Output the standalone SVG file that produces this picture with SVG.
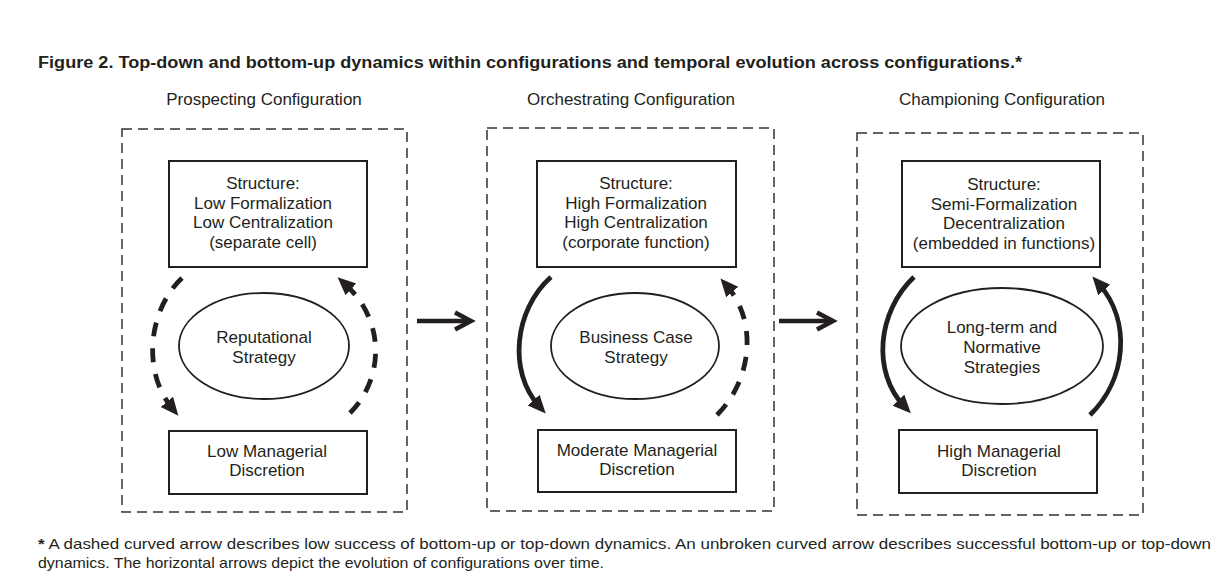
<svg xmlns="http://www.w3.org/2000/svg" width="1217" height="576" viewBox="0 0 1217 576">
<style>
text{font-family:"Liberation Sans",Arial,sans-serif;fill:#231f20;font-size:17px}
.t{text-anchor:middle}
.title{font-weight:bold;font-size:16px}
.note{font-size:15px}
.frame{fill:none;stroke:#333;stroke-width:1.5;stroke-dasharray:10 6}
.box{fill:#fff;stroke:#231f20;stroke-width:2}
.ell{fill:#fff;stroke:#231f20;stroke-width:1.8}
.arc{fill:none;stroke:#231f20;stroke-width:4.8;marker-end:url(#ah)}
.dash{stroke-dasharray:14 12}
.harrow{fill:none;stroke:#231f20;stroke-width:4.5}
</style>
<defs>
<marker id="ah" markerUnits="userSpaceOnUse" markerWidth="20" markerHeight="18" refX="8" refY="8" orient="auto">
<path d="M0,0 L18,8 L0,16 z" fill="#231f20"/>
</marker>
</defs>
<rect width="1217" height="576" fill="#fff"/>
<text class="title" x="38" y="68" textLength="984" lengthAdjust="spacingAndGlyphs">Figure 2.  Top-down and bottom-up dynamics within configurations and temporal evolution across configurations.*</text>

<g id="panel-prospecting">
<text class="t" x="264" y="105">Prospecting Configuration</text>
<rect class="frame" x="122" y="129" width="285" height="383"/>
</g>
<g id="panel-orchestrating">
<text class="t" x="631" y="105">Orchestrating Configuration</text>
<rect class="frame" x="487" y="128" width="287" height="383"/>
</g>
<g id="panel-championing">
<text class="t" x="1002" y="105">Championing Configuration</text>
<rect class="frame" x="857" y="133" width="286" height="382"/>
</g>

<g id="connectors">
<path class="arc dash" d="M182,278 C148,310 142,372 172,408"/>
<path class="arc dash" d="M350,413 C383,380 387,322 345,284"/>
<path class="arc" d="M551,277 C514,310 508,372 539,406"/>
<path class="arc dash" d="M717,415 C752,380 758,322 727,286"/>
<path class="arc" d="M914,277 C877,312 872,372 904,406"/>
<path class="arc" d="M1090,415 C1126,380 1132,322 1099,284"/>
<line class="harrow" x1="417" y1="321" x2="469" y2="321"/>
<polyline class="harrow" points="455,312.5 471,321 455,329.5"/>
<line class="harrow" x1="779" y1="321" x2="830" y2="321"/>
<polyline class="harrow" points="817,312.5 833,321 817,329.5"/>
</g>

<g id="p1-structure">
<rect class="box" x="169" y="161" width="198" height="106"/>
<text class="t" x="263" y="189">Structure:</text>
<text class="t" x="263" y="208.5">Low Formalization</text>
<text class="t" x="263" y="228">Low Centralization</text>
<text class="t" x="263" y="247.5">(separate cell)</text>
</g>
<g id="p1-strategy">
<ellipse class="ell" cx="264" cy="346" rx="85" ry="53"/>
<text class="t" x="264" y="343">Reputational</text>
<text class="t" x="264" y="363">Strategy</text>
</g>
<g id="p1-discretion">
<rect class="box" x="169" y="431" width="198" height="63"/>
<text class="t" x="267" y="457">Low Managerial</text>
<text class="t" x="267" y="476">Discretion</text>
</g>

<g id="p2-structure">
<rect class="box" x="537" y="161" width="199" height="106"/>
<text class="t" x="636" y="189">Structure:</text>
<text class="t" x="636" y="208.5">High Formalization</text>
<text class="t" x="636" y="228">High Centralization</text>
<text class="t" x="636" y="247.5">(corporate function)</text>
</g>
<g id="p2-strategy">
<ellipse class="ell" cx="635" cy="346" rx="84" ry="53"/>
<text class="t" x="636" y="343">Business Case</text>
<text class="t" x="636" y="363">Strategy</text>
</g>
<g id="p2-discretion">
<rect class="box" x="538" y="430" width="198" height="62"/>
<text class="t" x="637" y="456">Moderate Managerial</text>
<text class="t" x="637" y="475">Discretion</text>
</g>

<g id="p3-structure">
<rect class="box" x="902" y="161" width="198" height="106"/>
<text class="t" x="1004" y="190">Structure:</text>
<text class="t" x="1004" y="209.5">Semi-Formalization</text>
<text class="t" x="1004" y="229">Decentralization</text>
<text class="t" x="1004" y="248.5">(embedded in functions)</text>
</g>
<g id="p3-strategy">
<ellipse class="ell" cx="1002" cy="346" rx="101" ry="58"/>
<text class="t" x="1002" y="333">Long-term and</text>
<text class="t" x="1002" y="353">Normative</text>
<text class="t" x="1002" y="373">Strategies</text>
</g>
<g id="p3-discretion">
<rect class="box" x="899" y="430" width="198" height="63"/>
<text class="t" x="999" y="457">High Managerial</text>
<text class="t" x="999" y="476">Discretion</text>
</g>

<text class="note" x="38" y="549" textLength="1173" lengthAdjust="spacingAndGlyphs"><tspan font-weight="bold">*</tspan> A dashed curved arrow describes low success of bottom-up or top-down dynamics. An unbroken curved arrow describes successful bottom-up or top-down</text>
<text class="note" x="38" y="568" textLength="566" lengthAdjust="spacingAndGlyphs">dynamics. The horizontal arrows depict the evolution of configurations over time.</text>
</svg>
